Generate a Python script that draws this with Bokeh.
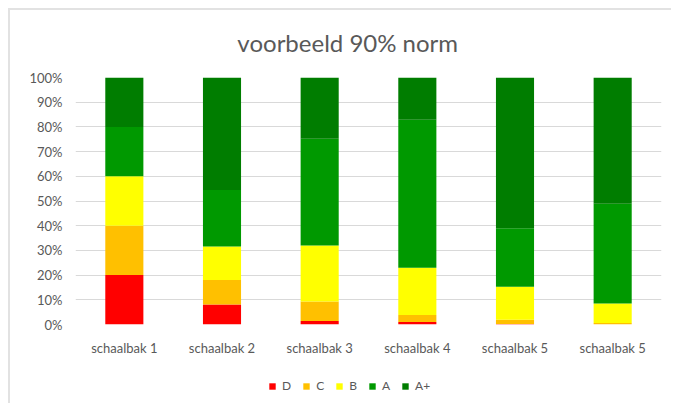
from bokeh.plotting import figure
from bokeh.layouts import column
from bokeh.models import (ColumnDataSource, Legend, LegendItem, Label,
                          FixedTicker, PrintfTickFormatter, Range1d)
from bokeh.embed import file_html
from bokeh.resources import INLINE

categories = ["schaalbak 1", "schaalbak 2", "schaalbak 3", "schaalbak 4", "schaalbak 5", "schaalbak 5"]
positions = [1, 2, 3, 4, 5, 6]
series_names = ["D", "C", "B", "A", "A+"]
D = [20, 8.1, 1.4, 1.0, 0.2, 0.0]
C = [20, 9.9, 7.9, 2.8, 1.7, 0.6]
B = [20, 13.6, 22.7, 19.2, 13.4, 7.9]
A = [20, 22.9, 43.2, 59.9, 23.7, 40.4]
Aplus = [20, 45.5, 24.8, 17.1, 61.0, 51.1]
colors = ["#FF0000", "#FFC000", "#FFFF00", "#009900", "#007D00"]
y_ticks = [0, 10, 20, 30, 40, 50, 60, 70, 80, 90, 100]
title_text = "voorbeeld 90% norm"

FONT = "Lato"
GREY = "#595959"
BORDER = "2px solid #e2e2e2"
W = 663


def strip(height, margin, styles):
    f = figure(width=W, height=height, output_backend="svg", toolbar_location=None,
               x_range=Range1d(0, W), y_range=Range1d(0, height),
               x_axis_location=None, y_axis_location=None, title=None,
               min_border_left=0, min_border_right=0, min_border_top=0, min_border_bottom=0)
    f.margin = margin
    f.grid.visible = False
    f.outline_line_color = None
    f.border_fill_color = "white"
    f.background_fill_color = "white"
    f.styles = styles
    return f


# title strip
tf = strip(50, (8, 0, 0, 8), {"border-left": BORDER, "border-top": BORDER})
tf.add_layout(Label(x=308, y=18, text=title_text, text_align="center",
                    text_baseline="alphabetic", text_font=FONT, text_font_size="24px",
                    text_color=GREY))

# main chart
source = ColumnDataSource(data=dict(x=positions, D=D, C=C, B=B, A=A, Aplus=Aplus))
p = figure(width=W, height=300, output_backend="svg", toolbar_location=None, title=None,
           x_range=Range1d(0.5, 6.5), y_range=Range1d(0, 100),
           min_border_left=65, min_border_right=12, min_border_top=19, min_border_bottom=34)
p.margin = (0, 0, 0, 8)
p.outline_line_color = None
p.background_fill_color = "white"
p.border_fill_color = "white"
p.styles = {"border-left": BORDER}

renderers = p.vbar_stack(["D", "C", "B", "A", "Aplus"], x="x", width=0.39,
                         source=source, color=colors, line_color=None)

p.xaxis.ticker = FixedTicker(ticks=positions)
p.xaxis.major_label_overrides = {pos: lab for pos, lab in zip(positions, categories)}
p.yaxis.ticker = FixedTicker(ticks=y_ticks)
p.yaxis.formatter = PrintfTickFormatter(format="%d%%")
for ax in (p.xaxis[0], p.yaxis[0]):
    ax.axis_line_color = None
    ax.major_tick_line_color = None
    ax.minor_tick_line_color = None
    ax.major_tick_out = 0
    ax.major_tick_in = 0
    ax.minor_tick_out = 0
    ax.minor_tick_in = 0
    ax.major_label_text_font = FONT
    ax.major_label_text_font_size = "13px"
    ax.major_label_text_color = GREY
p.xaxis.major_label_standoff = 15
p.yaxis.major_label_standoff = 13

p.xgrid.grid_line_color = None
p.ygrid.grid_line_color = "#D9D9D9"
p.ygrid.grid_line_width = 1

# legend strip
lg = strip(45, (0, 0, 0, 8), {"border-left": BORDER})
dummy = ColumnDataSource(data=dict(x=[-100], top=[-100]))
items = []
for name, col in zip(series_names, colors):
    r = lg.vbar(x="x", top="top", width=1, source=dummy, fill_color=col, line_color=None)
    items.append(LegendItem(label=name, renderers=[r]))
legend = Legend(items=items, orientation="horizontal", location=(193, 10),
                glyph_width=8, glyph_height=8, label_standoff=6, spacing=11,
                padding=0, margin=0, border_line_color=None, background_fill_alpha=0,
                label_text_font=FONT, label_text_font_size="12px", label_text_color=GREY,
                label_height=14, label_width=0)
lg.add_layout(legend, "center")

layout = column(tf, p, lg, spacing=0)
open("out.html", "w").write(file_html(layout, INLINE))
